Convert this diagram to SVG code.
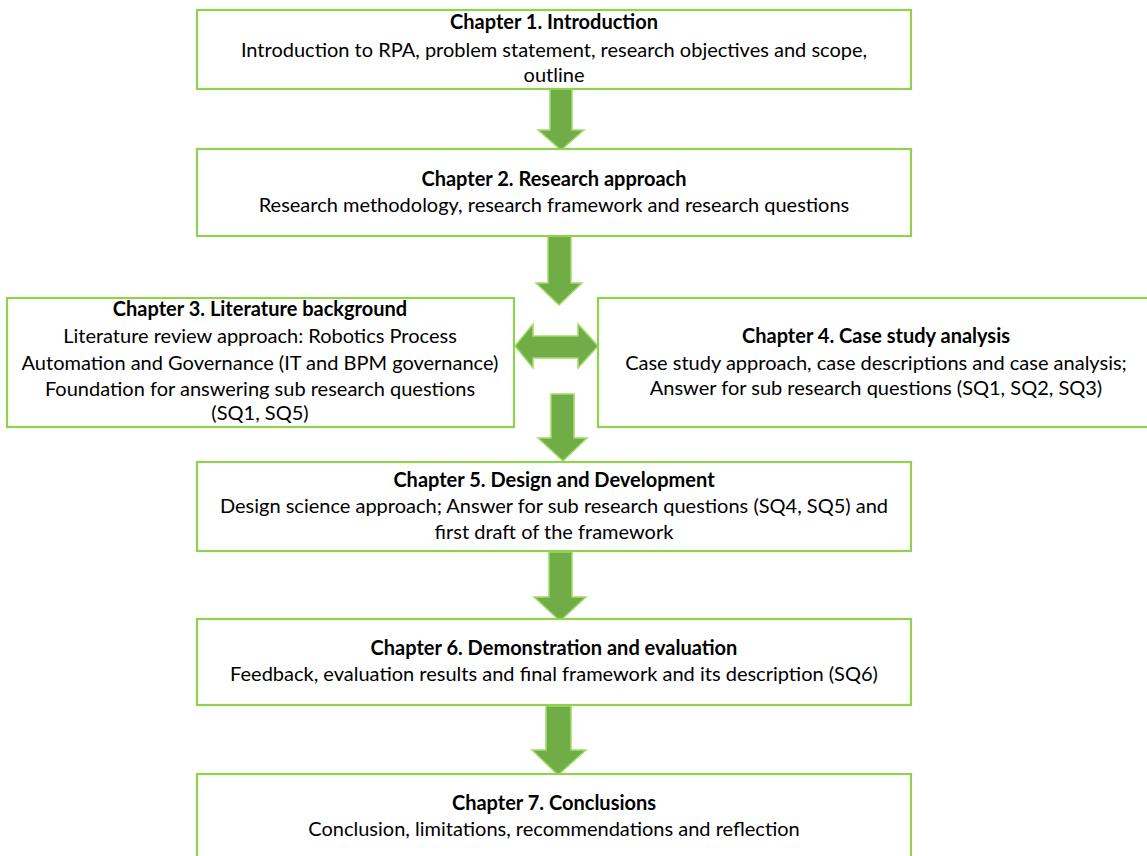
<svg xmlns="http://www.w3.org/2000/svg" width="1147" height="856" viewBox="0 0 1147 856">
  <style>
    .box { fill: #ffffff; stroke: #92d050; stroke-width: 2.2; }
    .t { font-family: Lato, "Liberation Sans", sans-serif; font-size: 20px; fill: #000000; text-anchor: middle; }
    .b { font-weight: bold; }
    .arrow { fill: #70ad47; stroke: #a3dc6a; stroke-width: 1.5; stroke-linejoin: miter; }
  </style>
  <rect width="1147" height="856" fill="#ffffff"/>

  <!-- connectors: block arrows between chapters -->
  <g id="connectors">
    <path class="arrow" d="M550,89 H572 V130 H584 L561,150 L538,130 H550 Z"/>
    <path class="arrow" d="M548,236 H571 V283 H582 L559,305 L536,283 H548 Z"/>
    <path class="arrow" d="M515,346 L533,324 V336 H578 V324 L598,346 L578,368 V358 H533 V368 Z"/>
    <path class="arrow" d="M551,394 H574 V438 H587 L563,461 L538,438 H551 Z"/>
    <path class="arrow" d="M549,552 H572 V597 H586 L560,621 L534,597 H549 Z"/>
    <path class="arrow" d="M546,706 H571 V750 H586 L558,775 L532,750 H546 Z"/>
  </g>

  <g id="ch1">
    <rect class="box" x="197" y="10" width="714" height="79"/>
    <text class="t b" x="554" y="29">Chapter 1. Introduction</text>
    <text class="t" x="554" y="57">Introduction to RPA, problem statement, research objectives and scope,</text>
    <text class="t" x="554" y="82">outline</text>
  </g>

  <g id="ch2">
    <rect class="box" x="197" y="149" width="714" height="87"/>
    <text class="t b" x="554" y="186">Chapter 2. Research approach</text>
    <text class="t" x="554" y="212">Research methodology, research framework and research questions</text>
  </g>

  <g id="ch3">
    <rect class="box" x="7" y="298" width="507" height="129"/>
    <text class="t b" x="260" y="316">Chapter 3. Literature background</text>
    <text class="t" x="260" y="343">Literature review approach: Robotics Process</text>
    <text class="t" x="260" y="370">Automation and Governance (IT and BPM governance)</text>
    <text class="t" x="260" y="396">Foundation for answering sub research questions</text>
    <text class="t" x="260" y="420">(SQ1, SQ5)</text>
  </g>

  <g id="ch4">
    <rect class="box" x="598" y="298" width="560" height="129"/>
    <text class="t b" x="876" y="343">Chapter 4. Case study analysis</text>
    <text class="t" x="876" y="370">Case study approach, case descriptions and case analysis;</text>
    <text class="t" x="876" y="395">Answer for sub research questions (SQ1, SQ2, SQ3)</text>
  </g>

  <g id="ch5">
    <rect class="box" x="197" y="462" width="714" height="89"/>
    <text class="t b" x="554" y="487">Chapter 5. Design and Development</text>
    <text class="t" x="554" y="513">Design science approach; Answer for sub research questions (SQ4, SQ5) and</text>
    <text class="t" x="554" y="539">first draft of the framework</text>
  </g>

  <g id="ch6">
    <rect class="box" x="197" y="619" width="714" height="86"/>
    <text class="t b" x="554" y="655">Chapter 6. Demonstration and evaluation</text>
    <text class="t" x="554" y="681">Feedback, evaluation results and final framework and its description (SQ6)</text>
  </g>

  <g id="ch7">
    <rect class="box" x="197" y="774" width="714" height="100"/>
    <text class="t b" x="554" y="810">Chapter 7. Conclusions</text>
    <text class="t" x="554" y="836">Conclusion, limitations, recommendations and reflection</text>
  </g>
</svg>
